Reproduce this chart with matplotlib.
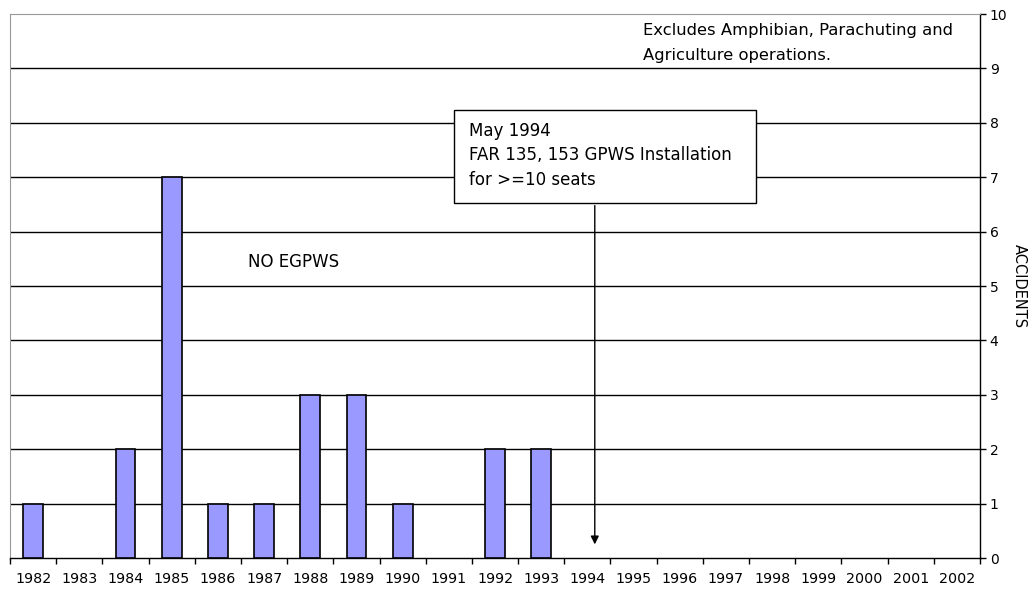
import numpy as np
import matplotlib.pyplot as plt

plt.rcParams['font.family'] = ['DejaVu Sans']

years = [str(y) for y in range(1982, 2003)]
accidents = [1, 0, 2, 7, 1, 1, 3, 3, 1, 0, 2, 2, 0, 0, 0, 0, 0, 0, 0, 0, 0]

fig = plt.figure(figsize=(10.33, 5.91), dpi=100)
ax = fig.add_axes([0.0097, 0.0558, 0.9390, 0.9205])

x = np.arange(len(years))
# skip empty years so no flat bar outline is drawn on the axis
nz = [i for i, v in enumerate(accidents) if v > 0]
ax.bar([x[i] for i in nz], [accidents[i] for i in nz], width=0.43,
       color='#9999ff', edgecolor='black', linewidth=1.2, zorder=3)

# horizontal grid
for v in range(1, 10):
    ax.axhline(v, color='black', linewidth=1.0, zorder=1)

ax.set_xlim(-0.5, len(years) - 0.5)
ax.set_ylim(0, 10)

ax.set_xticks(x)
ax.set_xticklabels(years, fontsize=10.3)
ax.set_xticks(np.arange(-0.5, len(years)), minor=True)
ax.tick_params(axis='x', which='major', length=0, pad=10)
ax.tick_params(axis='x', which='minor', length=4, width=1, direction='out')

ax.yaxis.tick_right()
ax.yaxis.set_label_position('right')
ax.set_yticks(range(0, 11))
ax.tick_params(axis='y', length=4, width=1, direction='out', labelsize=10, pad=3)
ax.set_ylabel('ACCIDENTS', rotation=-90, fontsize=10.5, labelpad=14)

for side in ['top', 'left']:
    ax.spines[side].set_color('#999999')
    ax.spines[side].set_linewidth(0.8)
ax.spines['bottom'].set_linewidth(1.0)
ax.spines['right'].set_linewidth(1.0)

ax.text(4.65, 5.44, 'NO EGPWS', fontsize=12, va='center', ha='left')
ax.text(13.2, 9.83, 'Excludes Amphibian, Parachuting and\nAgriculture operations.',
        fontsize=11.8, va='top', ha='left', linespacing=1.8)

# annotation box with arrow
ax.annotate('', xy=(12.16, 0.2), xytext=(12.16, 6.53),
            arrowprops=dict(arrowstyle='-|>', color='black', lw=1.0, mutation_scale=12),
            zorder=4)
ax.text(9.43, 8.02, 'May 1994\nFAR 135, 153 GPWS Installation\nfor >=10 seats',
        fontsize=12, va='top', ha='left', linespacing=1.48, zorder=6)
rect = plt.Rectangle((9.11, 6.53), 6.54, 1.71, facecolor='white', edgecolor='black',
                     linewidth=1.0, zorder=5)
ax.add_patch(rect)

fig.savefig('out.png', dpi=100)
